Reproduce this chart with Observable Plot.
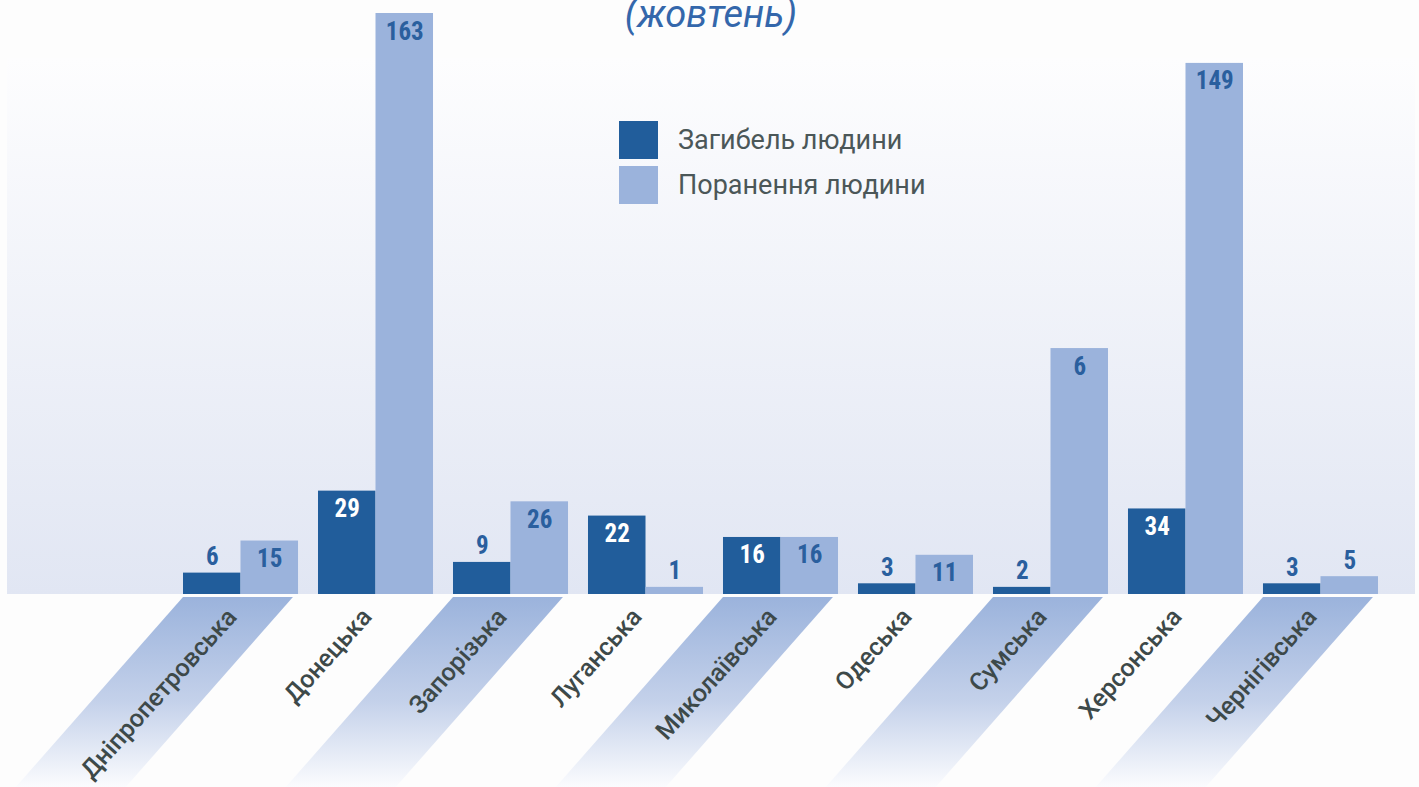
<!DOCTYPE html>
<html><head><meta charset="utf-8">
<script src="https://cdn.jsdelivr.net/npm/d3@7"></script>
<script src="https://cdn.jsdelivr.net/npm/@observablehq/plot@0.6"></script>
<style>
body{margin:0;background:#fdfdfd;width:1419px;height:787px;overflow:hidden;position:relative;font-family:Roboto,sans-serif}
#panel{position:absolute;left:7px;top:58px;width:1408px;height:536px;background:linear-gradient(#fdfdfe,#e1e6f3)}
#title{position:absolute;top:-5px;left:0;width:1422px;text-align:center;font-family:Roboto,sans-serif;font-style:italic;font-weight:400;font-size:38px;line-height:38px;color:#3467ab}
#chart{position:absolute;left:0;top:0}
#legend{position:absolute;left:619px;top:121px}
.lg{display:flex;align-items:center;height:38px;margin-bottom:7px;font-size:27px;color:#4b5758}
.sw{width:39px;height:38px;margin-right:20px;display:inline-block}
#chart g[aria-label="text"] text{font-family:"Roboto Condensed","Liberation Sans Narrow",Roboto,sans-serif;font-stretch:75%}
</style>
</head><body>
<div id="panel"></div>
<div id="chart"></div>
<div id="title">(жовтень)</div>
<div id="legend"></div>
<script>
const regions = ["Дніпропетровська","Донецька","Запорізька","Луганська","Миколаївська","Одеська","Сумська","Херсонська","Чернігівська"];
const deaths = [6, 29, 9, 22, 16, 3, 2, 24, 3];
const injuries = [15, 163, 26, 2, 16, 11, 69, 149, 5];
const deathLabels = ["6","29","9","22","16","3","2","34","3"];
const injuryLabels = ["15","163","26","1","16","11","6","149","5"];
const series = ["Загибель людини","Поранення людини"];
const colors = ["#215d9b","#9bb3dc"];
const labelBlue = "#2a5f9e";

const data = regions.flatMap((r, i) => [
  {region: r, series: series[0], value: deaths[i], label: deathLabels[i]},
  {region: r, series: series[1], value: injuries[i], label: injuryLabels[i]}
]);
const inside = data.filter(d => d.value >= 10);
const above = data.filter(d => d.value < 10);
const txt = {fx: "region", x: "series", y: "value", text: "label", fontSize: 25, fontWeight: "bold", lineAnchor: "middle"};

const plot = Plot.plot({
  width: 1419, height: 787,
  marginTop: 13, marginBottom: 193, marginLeft: 183, marginRight: 41,
  style: {background: "transparent", overflow: "visible", color: "#3d4949", fontFamily: "Roboto, sans-serif", fontSize: "25px"},
  fx: {domain: regions, paddingInner: 0.148, paddingOuter: 0, round: false, label: null},
  x: {domain: series, padding: 0, round: false, axis: null},
  y: {domain: [0, 163], axis: null},
  color: {domain: series, range: colors},
  marks: [
    Plot.axisFx({anchor: "bottom", label: null, tickRotate: -48, tickSize: 0, tickPadding: 14, dx: -9, dy: 4, fontWeight: 500, fill: "#3d4949"}),
    Plot.barY(data, {fx: "region", x: "series", y: "value", fill: "series"}),
    Plot.text(inside.filter(d => d.series === series[0]), {...txt, dy: 18, fill: "white"}),
    Plot.text(inside.filter(d => d.series === series[1]), {...txt, dy: 18, fill: labelBlue}),
    Plot.text(above, {...txt, dy: -16, fill: labelBlue})
  ]
});

// diagonal stripes behind alternate category labels, placed from the fx scale
const fxs = plot.scale("fx");
const band = d3.scaleBand(fxs.domain, fxs.range).paddingInner(fxs.paddingInner).paddingOuter(fxs.paddingOuter).align(fxs.align ?? 0.5);
const base = plot.scale("y").range[0];
const svg = d3.select(plot);
const defs = svg.insert("defs", ":first-child");
const grad = defs.append("linearGradient").attr("id", "stripeGrad").attr("x1", 0).attr("y1", 0).attr("x2", 0).attr("y2", 1);
grad.append("stop").attr("offset", 0).attr("stop-color", "#9bb3dc");
grad.append("stop").attr("offset", 0.55).attr("stop-color", "#c4d1ea");
grad.append("stop").attr("offset", 1).attr("stop-color", "#fbfcfe");
const stripes = svg.insert("g", "defs + *");
const yTop = base + 3, yBottom = 787, shift = (yBottom - yTop) * 0.88;
regions.forEach((r, i) => {
  if (i % 2) return;
  const x0 = band(r), x1 = x0 + band.bandwidth() * 0.956;
  stripes.append("polygon")
    .attr("points", [[x0, yTop], [x1, yTop], [x1 - shift, yBottom], [x0 - shift, yBottom]].map(p => p.join(",")).join(" "))
    .attr("fill", "url(#stripeGrad)");
});
document.getElementById("chart").appendChild(plot);

const lg = d3.select("#legend");
series.forEach((s, i) => {
  const row = lg.append("div").attr("class", "lg");
  row.append("span").attr("class", "sw").style("background", colors[i]);
  row.append("span").text(s);
});
</script>
</body></html>
